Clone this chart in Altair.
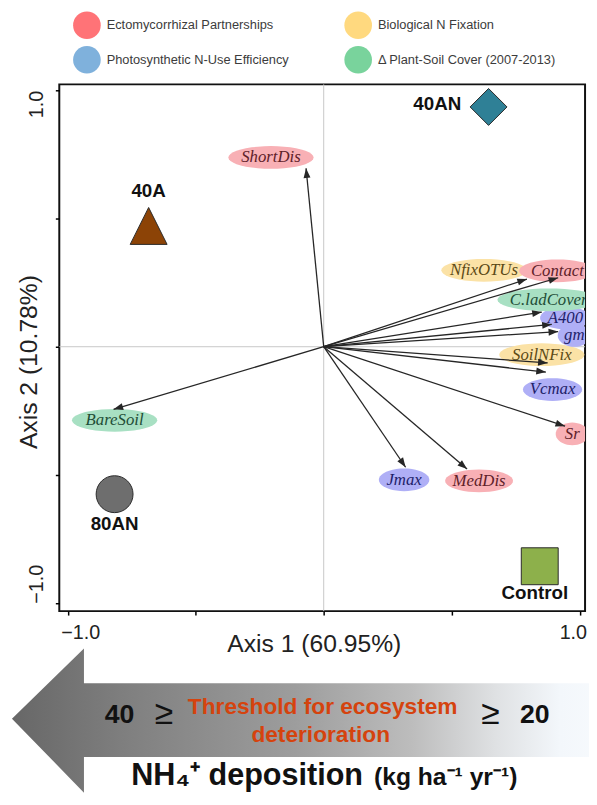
import altair as alt
import numpy as np
import pandas as pd

# ---------------- data ----------------
treatments = ["40AN", "40A", "80AN", "Control"]
treat_x = [0.644, -0.684, -0.817, 0.844]
treat_y = [0.935, 0.471, -0.575, -0.856]

group_names = ["Ectomycorrhizal Partnerships", "Biological N Fixation",
               "Photosynthetic N-Use Efficiency", "\u0394 Plant-Soil Cover (2007-2013)"]
ECTO, BNF, PHOTO, COVER = group_names
legend_order = [ECTO, PHOTO, BNF, COVER]

variables = ["ShortDis", "BareSoil", "Jmax", "MedDis", "Sr", "Vcmax",
             "SoilNFix", "gm", "A400", "C.ladCover", "NfixOTUs", "Contact"]
var_group = [ECTO, COVER, PHOTO, ECTO, ECTO, PHOTO, BNF, PHOTO, PHOTO, COVER, BNF, ECTO]
load_x = [-0.069, -0.821, 0.320, 0.560, 0.943, 0.868, 0.875, 0.916, 0.891, 0.852, 0.794, 0.916]
load_y = [0.696, -0.244, -0.470, -0.477, -0.310, -0.099, -0.063, 0.059, 0.087, 0.135, 0.264, 0.269]
lab_x = [-0.206, -0.817, 0.314, 0.607, 0.971, 0.894, 0.852, 0.979, 0.944, 0.879, 0.626, 0.913]
lab_y = [0.738, -0.287, -0.519, -0.523, -0.340, -0.167, -0.031, 0.044, 0.112, 0.183, 0.298, 0.296]

axis1_title = "Axis 1 (60.95%)"
axis2_title = "Axis 2 (10.78%)"
axis_ticks = [-1.0, -0.5, 0.0, 0.5, 1.0]

# ---------------- styles ----------------
SANS = "Liberation Sans"
SERIF = "Liberation Serif"
legend_colors = ["#FF7377", "#7FB1DC", "#FFD97F", "#79D39C"]   # in legend_order
ellipse_colors = ["#F8B0B5", "#FBE2A6", "#AFAFF6", "#A8E0C3"]  # in group_names order
label_colors = ["#5E2129", "#5B4A16", "#1E1E6A", "#1F4E37"]
treat_colors = ["#2F8096", "#8C4306", "#6E6E6E", "#8DB04B"]
TRI = "M0,-1L1,1L-1,1Z"
HEAD = "M0,0L-0.36,1L0.36,1Z"
ARROW = "M-2.88,-0.02L-2.15,-0.73L-2.15,-0.38L3.1,-0.38L3.1,0.37L-2.15,0.37L-2.15,0.73Z"


def ellipse_path(w, h, n=40):
    t = np.linspace(0, 2 * np.pi, n, endpoint=False)
    r = h / w
    return "M" + "L".join(f"{np.cos(a):.4f},{r * np.sin(a):.4f}" for a in t) + "Z"


loads = pd.DataFrame({"var": variables, "group": var_group,
                      "lx": load_x, "ly": load_y, "tx": lab_x, "ty": lab_y})
ell_w = [16 + 8.8 * len(v) for v in variables]
loads["epath"] = [ellipse_path(w, 23) for w in ell_w]
loads["esize"] = [w * w for w in ell_w]

trt = pd.DataFrame({"trt": treatments, "x": treat_x, "y": treat_y})

# ---------------- scales / axes ----------------
xs = alt.Scale(domain=[-1.033, 1.021], nice=False, zero=False)
ys = alt.Scale(domain=[-1.031, 1.023], nice=False, zero=False)
lab_expr = "abs(datum.value) == 1 ? format(datum.value, '.1f') : ''"

xax = alt.Axis(values=axis_ticks, labelExpr=lab_expr, grid=False, domain=False,
               tickSize=4, tickColor="#000", tickWidth=1.5,
               labelFont=SANS, labelFontSize=20, labelColor="#222", labelPadding=8,
               labelBaseline="top",
               labelAlign={"condition": {"test": "datum.value < 0", "value": "left"}, "value": "right"},
               labelOffset={"condition": {"test": "datum.value < 0", "value": -7}, "value": 7},
               title=axis1_title, titleFont=SANS, titleFontSize=25, titleFontWeight="normal",
               titleColor="#222", titleX=258, titleY=41, titleBaseline="alphabetic",
               titleAlign="center")
yax = alt.Axis(values=axis_ticks, labelExpr=lab_expr, grid=False, domain=False,
               tickSize=4, tickColor="#000", tickWidth=1.5,
               labelFont=SANS, labelFontSize=20, labelColor="#222", labelPadding=9,
               labelAngle=270, labelBaseline="bottom",
               labelAlign={"condition": {"test": "datum.value > 0", "value": "right"}, "value": "left"},
               title=axis2_title, titleFont=SANS, titleFontSize=25, titleFontWeight="normal",
               titleColor="#222", titleAngle=270, titleX=-23, titleY=281,
               titleBaseline="alphabetic", titleAlign="center")


def X(f):
    return alt.X(f, type="quantitative", scale=xs, axis=xax)


def Y(f):
    return alt.Y(f, type="quantitative", scale=ys, axis=yax)


zero = pd.DataFrame({"z": [0.0]})
vline = alt.Chart(zero).mark_rule(color="#c8c8c8", strokeWidth=1).encode(x=X("z"))
hline = alt.Chart(zero).mark_rule(color="#c8c8c8", strokeWidth=1).encode(y=Y("z"))

base = alt.Chart(loads)
ellipses = base.mark_point(filled=True, opacity=1, clip=True, strokeWidth=0).encode(
    x=X("tx"), y=Y("ty"),
    fill=alt.Fill("group:N", scale=alt.Scale(domain=group_names, range=ellipse_colors), legend=None),
    shape=alt.Shape("epath:N", scale=None),
    size=alt.Size("esize:Q", scale=None),
)
labels = base.mark_text(font=SERIF, fontStyle="italic", fontSize=17, clip=True).encode(
    x=X("tx"), y=Y("ty"), text="var:N",
    color=alt.Color("group:N", scale=alt.Scale(domain=group_names, range=label_colors), legend=None),
)
lines = base.transform_calculate(o="0").mark_rule(color="#262626", strokeWidth=1.3).encode(
    x=X("o"), y=Y("o"), x2="lx:Q", y2="ly:Q"
)
heads = base.transform_calculate(
    ang="(atan2(datum.lx, datum.ly) * 180 / PI + 360) % 360"
).mark_point(filled=True, color="#262626", opacity=1, shape=HEAD, size=380).encode(
    x=X("lx"), y=Y("ly"), angle=alt.Angle("ang:Q", scale=None)
)

markers = alt.Chart(trt).mark_point(filled=True, opacity=1, size=1400,
                                    stroke="#2a2a2a", strokeWidth=1).encode(
    x=X("x"), y=Y("y"),
    fill=alt.Fill("trt:N", scale=alt.Scale(domain=treatments, range=treat_colors), legend=None),
    shape=alt.Shape("trt:N", scale=alt.Scale(domain=treatments,
                                             range=["diamond", TRI, "circle", "square"]), legend=None),
)
trt_offsets = {"40AN": (-52, -3), "40A": (0, -35), "80AN": (0, 30), "Control": (-5, 27)}
trt_labels = [
    alt.Chart(trt).transform_filter(alt.datum.trt == t).mark_text(
        font=SANS, fontWeight="bold", fontSize=19, color="#111", dx=dx, dy=dy
    ).encode(x=X("x"), y=Y("y"), text="trt:N")
    for t, (dx, dy) in trt_offsets.items()
]

leg = pd.DataFrame({"group": legend_order})
legend_layer = alt.Chart(leg).mark_point(filled=True, opacity=0).encode(
    x=alt.value(0), y=alt.value(0),
    color=alt.Color("group:N", scale=alt.Scale(domain=legend_order, range=legend_colors),
                    legend=alt.Legend(title=None, orient="none", legendX=14, legendY=-74,
                                      columns=2, symbolType="circle", symbolSize=784,
                                      symbolOpacity=1, symbolStrokeWidth=0,
                                      labelFont=SANS, labelFontSize=13, labelColor="#3c3c3c",
                                      labelOffset=6, rowPadding=7, columnPadding=56,
                                      padding=0, labelLimit=300)),
)

one = pd.DataFrame({"k": [0]})
grad = alt.LinearGradient(
    gradient="linear", x1=0, x2=1, y1=0, y2=0,
    stops=[alt.GradientStop(color="#676767", offset=0),
           alt.GradientStop(color="#808080", offset=0.2),
           alt.GradientStop(color="#9d9d9d", offset=0.48),
           alt.GradientStop(color="#bdbdbd", offset=0.68),
           alt.GradientStop(color="#dfe1e3", offset=0.82),
           alt.GradientStop(color="#f3f7fb", offset=0.93),
           alt.GradientStop(color="#f7fafd", offset=1)],
)
arrow = alt.Chart(one).mark_point(shape=ARROW, size=40000, filled=True, fill=grad,
                                  opacity=1, strokeWidth=0).encode(
    x=alt.value(240), y=alt.value(645))


def note(text, x, y, size, color="#111", weight="bold", align="left"):
    return alt.Chart(one).mark_text(text=text, font=SANS, fontSize=size, fontWeight=weight,
                                    color=color, align=align, baseline="alphabetic").encode(
        x=alt.value(x), y=alt.value(y))


notes = [
    note("40", 46, 647, 27),
    note("\u2265", 106, 648, 34, weight="normal", align="center"),
    note("Threshold for ecosystem", 267, 638, 23, color="#D5430E", align="center"),
    note("deterioration", 265, 667, 23, color="#D5430E", align="center"),
    note("\u2265", 437, 648, 34, weight="normal", align="center"),
    note("20", 467, 647, 27),
    note("NH\u2084\u207A deposition", 73, 710, 31),
    note("(kg ha\u207B\u00B9 yr\u207B\u00B9)", 319, 710, 25),
]

chart = alt.layer(
    vline, hline, ellipses, labels, lines, heads, markers, *trt_labels,
    legend_layer, arrow, *notes
).resolve_scale(
    color="independent", fill="independent", shape="independent", size="independent"
).properties(
    width=533, height=534,
    padding={"left": 52, "top": 72, "right": 4, "bottom": 183},
    autosize=alt.AutoSizeParams(type="none"),
).configure_view(stroke="#111", strokeWidth=2)

chart.save("out.html", embed_options={"renderer": "svg", "actions": False})
